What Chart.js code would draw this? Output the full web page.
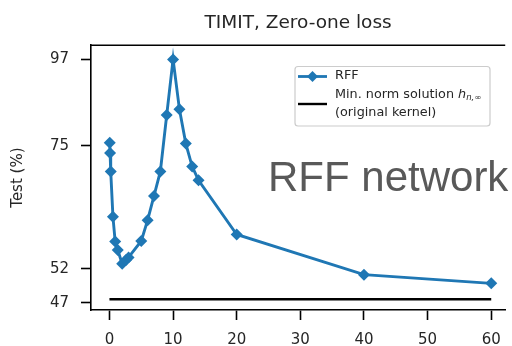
<!DOCTYPE html>
<html>
<head>
<meta charset="utf-8">
<script src="https://cdn.jsdelivr.net/npm/chart.js@4.4.1/dist/chart.umd.min.js"></script>
<style>
  html, body { margin: 0; padding: 0; background: #fff; }
  #wrap { position: relative; width: 512px; height: 346px; }
</style>
</head>
<body>
<div id="wrap"><canvas id="chart" width="512" height="346"></canvas></div>
<script>
/* ---------- Data ---------- */
const rffX = [0.05, 0.1, 0.2, 0.55, 0.9, 1.3, 2, 2.6, 3, 5, 6, 7, 8, 9, 10, 11, 12, 13, 14, 20, 40, 60];
const rffY = [75.7, 73.4, 69.5, 60.7, 56.4, 55.0, 52.8, 53.4, 53.8, 56.5, 60.1, 64.6, 69.5, 82.2, 97.0, 83.6, 75.5, 70.5, 67.7, 57.6, 51.1, 49.8];
const minNormX = [0, 60];
const minNormY = [47.5, 47.5];
const xTicks = [0, 10, 20, 30, 40, 50, 60];
const yTicks = [47, 52, 75, 97];

const BLUE = "#1f77b4";
const INK = "#262626";
const FONT = "'DejaVu Sans', sans-serif";

/* ---------- Extra drawing: top spine, legend, overlay label ---------- */
const decor = {
    id: "decor",
    afterDraw(chart) {
        const ctx = chart.ctx;
        const a = chart.chartArea;
        ctx.save();
        // top spine
        ctx.strokeStyle = "#000";
        ctx.lineWidth = 1.6;
        ctx.beginPath();
        ctx.moveTo(a.left, a.top);
        ctx.lineTo(a.right, a.top);
        ctx.stroke();

        // legend box
        const bx = 295, by = 66.5, bw = 195, bh = 59.5, r = 3;
        ctx.fillStyle = "rgba(255,255,255,0.85)";
        ctx.strokeStyle = "#cccccc";
        ctx.lineWidth = 1.2;
        ctx.beginPath();
        ctx.roundRect(bx, by, bw, bh, r);
        ctx.fill();
        ctx.stroke();

        // RFF entry
        ctx.strokeStyle = BLUE;
        ctx.lineWidth = 2.8;
        ctx.beginPath();
        ctx.moveTo(298, 76.5);
        ctx.lineTo(327, 76.5);
        ctx.stroke();
        ctx.fillStyle = BLUE;
        ctx.beginPath();
        ctx.moveTo(312.5, 71);
        ctx.lineTo(318, 76.5);
        ctx.lineTo(312.5, 82);
        ctx.lineTo(307, 76.5);
        ctx.closePath();
        ctx.fill();

        // min norm entry
        ctx.strokeStyle = "#000";
        ctx.lineWidth = 2.4;
        ctx.beginPath();
        ctx.moveTo(298, 104);
        ctx.lineTo(327, 104);
        ctx.stroke();

        ctx.fillStyle = INK;
        ctx.textBaseline = "middle";
        ctx.textAlign = "left";
        ctx.font = "12.8px " + FONT;
        ctx.fillText("RFF", 335, 76);
        const t1 = "Min. norm solution ";
        ctx.fillText(t1, 335, 94.5);
        let x = 335 + ctx.measureText(t1).width;
        ctx.font = "italic 12.8px " + FONT;
        ctx.fillText("h", x, 94.5);
        x += ctx.measureText("h").width;
        ctx.font = "italic 8.5px " + FONT;
        ctx.fillText("n,", x, 98);
        x += ctx.measureText("n,").width;
        ctx.font = "8.5px " + FONT;
        ctx.fillText("\u221E", x, 98);
        ctx.font = "12.8px " + FONT;
        ctx.fillText("(original kernel)", 335, 113);

        // overlay label
        ctx.fillStyle = "#595959";
        ctx.textBaseline = "alphabetic";
        ctx.font = "42px 'Liberation Sans', Arial, sans-serif";
        ctx.fillText("RFF network", 268, 191);
        ctx.restore();
    }
};

/* ---------- Chart ---------- */
const ctx = document.getElementById("chart").getContext("2d");
new Chart(ctx, {
    type: "line",
    data: {
        datasets: [
            {
                label: "Min. norm solution",
                data: minNormX.map(function (v, i) { return { x: v, y: minNormY[i] }; }),
                borderColor: "#000",
                borderWidth: 2.4,
                pointRadius: 0,
                order: 2
            },
            {
                label: "RFF",
                data: rffX.map(function (v, i) { return { x: v, y: rffY[i] }; }),
                borderColor: BLUE,
                backgroundColor: BLUE,
                borderWidth: 2.9,
                pointStyle: "rectRot",
                pointRadius: 6,
                pointBorderWidth: 0,
                pointBackgroundColor: BLUE,
                tension: 0,
                order: 1
            }
        ]
    },
    options: {
        responsive: false,
        animation: false,
        layout: { padding: 0 },
        plugins: {
            legend: { display: false },
            tooltip: { enabled: false },
            title: {
                display: true,
                text: "TIMIT, Zero-one loss",
                color: INK,
                fullSize: false,
                font: { family: FONT, size: 18.5, weight: "normal" },
                padding: { top: 12, bottom: 11 }
            }
        },
        scales: {
            x: {
                type: "linear",
                min: -2.9,
                max: 62.2,
                afterBuildTicks: function (s) { s.ticks = xTicks.map(function (v) { return { value: v }; }); },
                afterFit: function (s) { s.height = 36; },
                grid: { drawOnChartArea: false, drawTicks: true, tickLength: 10, tickWidth: 1.6, tickColor: "#000" },
                border: { display: true, color: "#000", width: 1.6 },
                ticks: { color: INK, font: { family: FONT, size: 15 }, padding: 11, maxRotation: 0 }
            },
            y: {
                type: "logarithmic",
                min: 46.0,
                max: 101.2,
                afterBuildTicks: function (s) { s.ticks = yTicks.map(function (v) { return { value: v }; }); },
                afterFit: function (s) { s.width = 91; },
                grid: { drawOnChartArea: false, drawTicks: true, tickLength: 10, tickWidth: 1.6, tickColor: "#000" },
                border: { display: true, color: "#000", width: 1.6 },
                ticks: { color: INK, font: { family: FONT, size: 15 }, padding: 12, callback: function (v) { return String(v); } },
                title: { display: true, text: "Test (%)", color: INK, font: { family: FONT, size: 15 }, padding: { top: 9, bottom: 0 } }
            }
        }
    },
    plugins: [decor]
});
</script>
</body>
</html>
